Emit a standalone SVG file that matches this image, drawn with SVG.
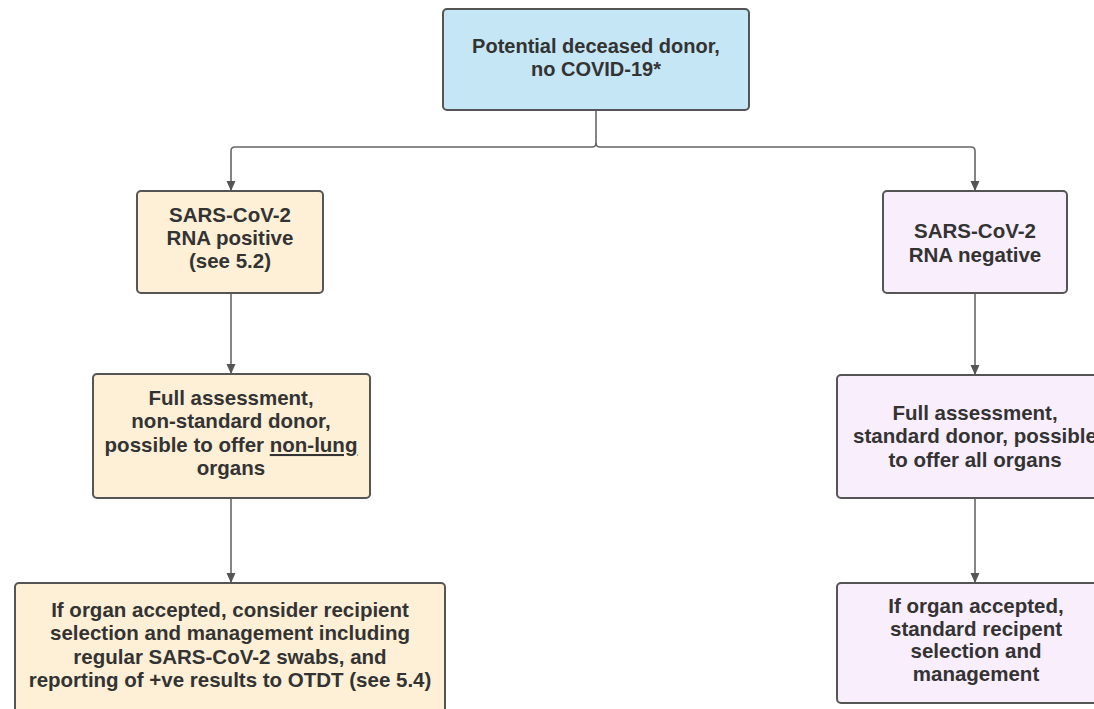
<svg xmlns="http://www.w3.org/2000/svg" width="1094" height="709" viewBox="0 0 1094 709">
<defs>
<marker id="arr" viewBox="0 0 10 10" refX="10" refY="5" markerWidth="10" markerHeight="10" markerUnits="userSpaceOnUse" orient="auto">
<path d="M0,0.5 L10,5 L0,9.5 Z" fill="#555"/>
</marker>
<style>
.box{stroke:#555;stroke-width:2}
.blue{fill:#c5e6f5}
.beige{fill:#fdf0d6}
.lav{fill:#f9eefb}
.t{font-family:"Liberation Sans",Arial,sans-serif;font-weight:bold;font-size:20.5px;fill:#333;text-anchor:middle}
.c{fill:none;stroke:#666;stroke-width:1.6}
</style>
</defs>
<rect width="1094" height="709" fill="#fff"/>
<g id="connectors">
<path class="c" d="M596,110 V143 Q596,147 592,147 H235 Q231,147 231,151 V191" marker-end="url(#arr)"/>
<path class="c" d="M596,143 Q596,147 600,147 H971 Q975,147 975,151 V191" marker-end="url(#arr)"/>
<path class="c" d="M231,293 V374" marker-end="url(#arr)"/>
<path class="c" d="M231,498 V583" marker-end="url(#arr)"/>
<path class="c" d="M975,293 V375" marker-end="url(#arr)"/>
<path class="c" d="M975,498 V583" marker-end="url(#arr)"/>
</g>
<g id="n_top">
<rect class="box blue" x="443" y="9" width="306" height="101" rx="4"/>
<text class="t" font-size="20" style="font-size:20px" x="596" y="53">Potential deceased donor,</text>
<text class="t" style="font-size:20px" x="596" y="76">no COVID-19*</text>
</g>
<g id="n_pos">
<rect class="box beige" x="137" y="191" width="186" height="102" rx="4"/>
<text class="t" x="230" y="222">SARS-CoV-2</text>
<text class="t" x="230" y="245">RNA positive</text>
<text class="t" x="230" y="268">(see 5.2)</text>
</g>
<g id="n_neg">
<rect class="box lav" x="883" y="191" width="184" height="102" rx="4"/>
<text class="t" x="975" y="238">SARS-CoV-2</text>
<text class="t" x="975" y="262">RNA negative</text>
</g>
<g id="n_full_pos">
<rect class="box beige" x="93" y="374" width="277" height="124" rx="4"/>
<text class="t" x="231" y="405">Full assessment,</text>
<text class="t" x="231" y="428">non-standard donor,</text>
<text class="t" x="231" y="452">possible to offer <tspan text-decoration="underline">non-lung</tspan></text>
<text class="t" x="231" y="475">organs</text>
</g>
<g id="n_full_neg">
<rect class="box lav" x="837" y="375" width="280" height="123" rx="4"/>
<text class="t" x="975" y="420">Full assessment,</text>
<text class="t" x="975" y="443">standard donor, possible</text>
<text class="t" x="975" y="467">to offer all organs</text>
</g>
<g id="n_rec_pos">
<rect class="box beige" x="15" y="583" width="430" height="140" rx="4"/>
<text class="t" x="230" y="617">If organ accepted, consider recipient</text>
<text class="t" x="230" y="640">selection and management including</text>
<text class="t" x="230" y="664">regular SARS-CoV-2 swabs, and</text>
<text class="t" x="230" y="687">reporting of +ve results to OTDT (see 5.4)</text>
</g>
<g id="n_rec_neg">
<rect class="box lav" x="837" y="583" width="280" height="120" rx="4"/>
<text class="t" x="976" y="613">If organ accepted,</text>
<text class="t" x="976" y="636">standard recipent</text>
<text class="t" x="976" y="658">selection and</text>
<text class="t" x="976" y="681">management</text>
</g>
</svg>
